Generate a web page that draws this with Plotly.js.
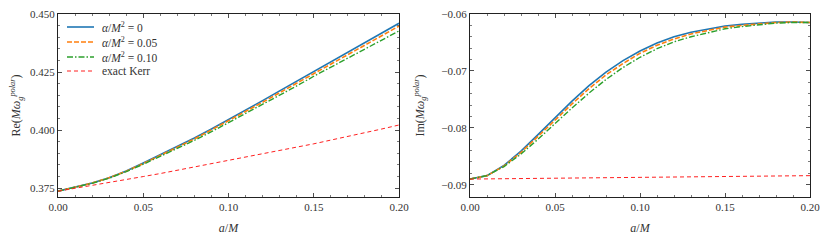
<!DOCTYPE html>
<html><head><meta charset="utf-8">
<script src="https://cdn.plot.ly/plotly-3.0.1.min.js"></script>
<style>body{margin:0;padding:0;background:#fff}#c{width:830px;height:242px}</style>
</head><body><div id="c"></div>
<script>
const aM = [0.00,0.01,0.02,0.03,0.04,0.05,0.06,0.07,0.08,0.09,0.10,0.11,0.12,0.13,0.14,0.15,0.16,0.17,0.18,0.19,0.20];

const re_alpha0    = [0.3737,0.3753,0.3772,0.3795,0.3824,0.3858,0.3893,0.3929,0.3966,0.4005,0.4045,0.4086,0.4127,0.4169,0.4211,0.4253,0.4295,0.4337,0.4379,0.4420,0.4460];
const re_alpha005  = [0.3737,0.3753,0.3772,0.3795,0.3823,0.3856,0.3891,0.3926,0.3962,0.4001,0.4040,0.4080,0.4120,0.4161,0.4202,0.4244,0.4285,0.4326,0.4367,0.4408,0.4448];
const re_alpha010  = [0.3737,0.3753,0.3771,0.3793,0.3821,0.3853,0.3887,0.3921,0.3956,0.3993,0.4032,0.4071,0.4110,0.4150,0.4190,0.4232,0.4271,0.4310,0.4349,0.4388,0.4427];
const re_kerr      = [0.3737,0.3749,0.3761,0.3774,0.3787,0.3800,0.3813,0.3827,0.3840,0.3854,0.3868,0.3882,0.3897,0.3911,0.3926,0.3941,0.3957,0.3972,0.3988,0.4005,0.4022];

const im_alpha0    = [-0.0890,-0.0884,-0.0866,-0.0841,-0.0812,-0.0782,-0.0753,-0.0726,-0.0702,-0.0682,-0.0665,-0.0651,-0.0640,-0.0632,-0.0626,-0.0621,-0.0618,-0.0616,-0.0614,-0.0614,-0.0615];
const im_alpha005  = [-0.0890,-0.0884,-0.0867,-0.0843,-0.0815,-0.0786,-0.0758,-0.0731,-0.0707,-0.0687,-0.0669,-0.0655,-0.0644,-0.0635,-0.0629,-0.0623,-0.0620,-0.0617,-0.0615,-0.0614,-0.0615];
const im_alpha010  = [-0.0890,-0.0884,-0.0868,-0.0846,-0.0820,-0.0792,-0.0765,-0.0739,-0.0715,-0.0694,-0.0676,-0.0661,-0.0649,-0.0640,-0.0633,-0.0626,-0.0622,-0.0619,-0.0616,-0.0615,-0.0615];
const im_kerr      = [-0.0890,-0.08897,-0.08894,-0.08891,-0.08888,-0.08885,-0.08882,-0.08879,-0.08876,-0.08873,-0.08870,-0.08867,-0.08864,-0.08861,-0.08858,-0.08855,-0.08852,-0.08849,-0.08846,-0.08843,-0.0884];

const names = ['<i>α</i>/<i>M</i><sup>2</sup> = 0','<i>α</i>/<i>M</i><sup>2</sup> = 0.05','<i>α</i>/<i>M</i><sup>2</sup> = 0.10','exact Kerr'];
const colors = ['#1f77b4','#ff7f0e','#2ca02c','#ff2020'];
const dashes = ['solid','5px,2px','6px,2px,1.5px,2px','4px,3px'];
const widths = [1.6,1.6,1.4,1.0];

const reSets = [re_alpha0,re_alpha005,re_alpha010,re_kerr];
const imSets = [im_alpha0,im_alpha005,im_alpha010,im_kerr];

const traces = [];
reSets.forEach((ys,i)=>traces.push({x:aM,y:ys,type:'scatter',mode:'lines',name:names[i],
  line:{color:colors[i],dash:dashes[i],width:widths[i]},xaxis:'x',yaxis:'y',showlegend:false}));
imSets.forEach((ys,i)=>traces.push({x:aM,y:ys,type:'scatter',mode:'lines',name:names[i],
  line:{color:colors[i],dash:dashes[i],width:widths[i]},xaxis:'x2',yaxis:'y2',showlegend:false}));

const F = 'Liberation Serif, DejaVu Serif, serif';
const W = 830, H = 242;
function ax(extra){
  return Object.assign({
    showline:true, mirror:'allticks', linecolor:'#222', linewidth:1,
    ticks:'inside', ticklen:4, tickwidth:0.8, tickcolor:'#222',
    showgrid:false, zeroline:false,
    tickfont:{family:F,size:11,color:'#333'},
  }, extra);
}
const yb = 45/H, yt = 228/H;

// custom legend (upper left of left panel)
const shapes = [], annotations = [];
const legRows = [27,42,57,71];
names.forEach((n,i)=>{
  const yy = 1 - legRows[i]/H;
  shapes.push({type:'line',xref:'paper',yref:'paper',x0:67/W,x1:94/W,y0:yy,y1:yy,
    line:{color:colors[i],dash:dashes[i],width:widths[i]}});
  annotations.push({xref:'paper',yref:'paper',x:100/W,y:yy,xanchor:'left',yanchor:'middle',
    text:n,showarrow:false,font:{family:F,size:11.5,color:'#333'}});
});

const layout = {
  width:W, height:H,
  margin:{l:0,r:0,t:0,b:0},
  paper_bgcolor:'#fff', plot_bgcolor:'#fff',
  font:{family:F,size:11,color:'#333'},
  xaxis: ax({domain:[58/W,399/W],range:[0,0.2],dtick:0.05,tickformat:'.2f',anchor:'y',
    minor:{dtick:0.01,ticks:'inside',ticklen:2,tickcolor:'#222',tickwidth:0.6},
    title:{text:'<i>a</i>/<i>M</i>',font:{family:F,size:12,color:'#333'},standoff:11}}),
  yaxis: ax({domain:[yb,yt],range:[0.3712,0.450],tick0:0.375,dtick:0.025,tickformat:'.3f',anchor:'x',
    minor:{dtick:0.005,ticks:'inside',ticklen:2,tickcolor:'#222',tickwidth:0.6},
    title:{text:'Re(<i>Mω</i><sub><i>g</i></sub><sup><i>polar</i></sup>)',font:{family:F,size:12,color:'#333'},standoff:6}}),
  xaxis2: ax({domain:[470/W,810/W],range:[0,0.2],dtick:0.05,tickformat:'.2f',anchor:'y2',
    minor:{dtick:0.01,ticks:'inside',ticklen:2,tickcolor:'#222',tickwidth:0.6},
    title:{text:'<i>a</i>/<i>M</i>',font:{family:F,size:12,color:'#333'},standoff:11}}),
  yaxis2: ax({domain:[yb,yt],range:[-0.09215,-0.06],tick0:-0.09,dtick:0.01,tickformat:'.2f',anchor:'x2',
    minor:{dtick:0.002,ticks:'inside',ticklen:2,tickcolor:'#222',tickwidth:0.6},
    title:{text:'Im(<i>Mω</i><sub><i>g</i></sub><sup><i>polar</i></sup>)',font:{family:F,size:12,color:'#333'},standoff:14}}),
  shapes, annotations,
  showlegend:false
};
Plotly.newPlot('c',traces,layout,{displayModeBar:false,staticPlot:true});
</script></body></html>
